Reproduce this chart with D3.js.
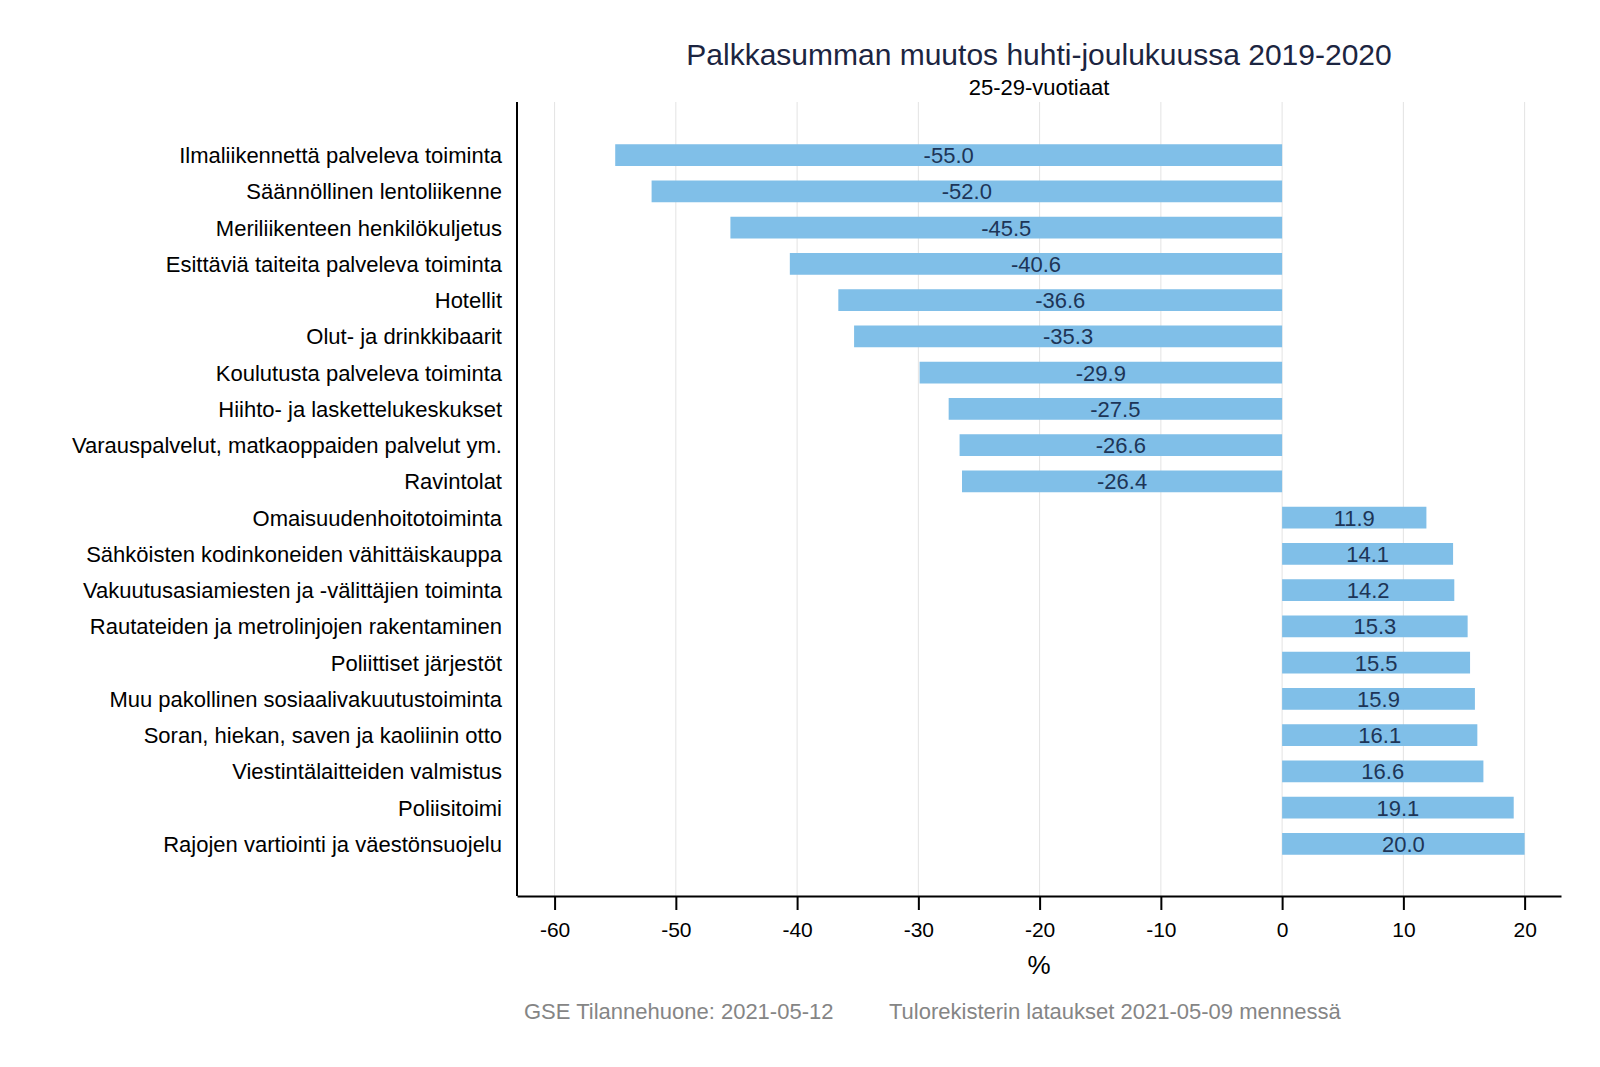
<!DOCTYPE html>
<html>
<head>
<meta charset="utf-8">
<script src="https://cdn.jsdelivr.net/npm/d3@7"></script>
<style>
  body { margin: 0; background: #fff; }
  text { font-family: "Liberation Sans", Arial, sans-serif; }
</style>
</head>
<body>
<div id="chart"></div>
<script>
// data
const categories = [
  "Ilmaliikennettä palveleva toiminta",
  "Säännöllinen lentoliikenne",
  "Meriliikenteen henkilökuljetus",
  "Esittäviä taiteita palveleva toiminta",
  "Hotellit",
  "Olut- ja drinkkibaarit",
  "Koulutusta palveleva toiminta",
  "Hiihto- ja laskettelukeskukset",
  "Varauspalvelut, matkaoppaiden palvelut ym.",
  "Ravintolat",
  "Omaisuudenhoitotoiminta",
  "Sähköisten kodinkoneiden vähittäiskauppa",
  "Vakuutusasiamiesten ja -välittäjien toiminta",
  "Rautateiden ja metrolinjojen rakentaminen",
  "Poliittiset järjestöt",
  "Muu pakollinen sosiaalivakuutustoiminta",
  "Soran, hiekan, saven ja kaoliinin otto",
  "Viestintälaitteiden valmistus",
  "Poliisitoimi",
  "Rajojen vartiointi ja väestönsuojelu"
];
const values = [-55.0, -52.0, -45.5, -40.6, -36.6, -35.3, -29.9, -27.5, -26.6, -26.4,
  11.9, 14.1, 14.2, 15.3, 15.5, 15.9, 16.1, 16.6, 19.1, 20.0];
const xTicks = [-60, -50, -40, -30, -20, -10, 0, 10, 20];

const rows = categories.map((c, i) => ({ name: c, value: values[i] }));

const W = 1600, H = 1067;
const margin = { top: 102, right: 39, bottom: 171, left: 517 };
const width = W - margin.left - margin.right;
const height = H - margin.top - margin.bottom;

const svg = d3.select("#chart").append("svg")
  .attr("width", W)
  .attr("height", H);

const g = svg.append("g")
  .attr("transform", "translate(" + margin.left + "," + margin.top + ")");

const x = d3.scaleLinear().domain([-63.1, 23]).range([0, width]);
const y = d3.scaleBand()
  .domain(categories)
  .range([35, 760])
  .paddingInner(0.4)
  .paddingOuter(0.2);

// gridlines
g.selectAll("line.grid")
  .data(xTicks)
  .enter()
  .append("line")
  .attr("class", "grid")
  .attr("x1", d => x(d))
  .attr("x2", d => x(d))
  .attr("y1", 0)
  .attr("y2", height)
  .attr("stroke", "#e3e3e3")
  .attr("stroke-width", 1);

// bars
g.selectAll("rect.bar")
  .data(rows)
  .enter()
  .append("rect")
  .attr("class", "bar")
  .attr("x", d => x(Math.min(0, d.value)))
  .attr("width", d => Math.abs(x(d.value) - x(0)))
  .attr("y", d => y(d.name))
  .attr("height", y.bandwidth())
  .attr("fill", "#80bfe8");

// value labels
g.selectAll("text.val")
  .data(rows)
  .enter()
  .append("text")
  .attr("class", "val")
  .attr("x", d => (x(d.value) + x(0)) / 2)
  .attr("y", d => y(d.name) + y.bandwidth() / 2)
  .attr("dy", "0.36em")
  .attr("text-anchor", "middle")
  .attr("font-size", 22)
  .attr("fill", "#1d3557")
  .text(d => d.value.toFixed(1));

// category labels
g.selectAll("text.cat")
  .data(rows)
  .enter()
  .append("text")
  .attr("class", "cat")
  .attr("x", -15)
  .attr("y", d => y(d.name) + y.bandwidth() / 2)
  .attr("dy", "0.36em")
  .attr("text-anchor", "end")
  .attr("font-size", 22)
  .attr("fill", "#000")
  .text(d => d.name);

// left axis line
g.append("line")
  .attr("x1", 0).attr("x2", 0)
  .attr("y1", 0).attr("y2", height)
  .attr("stroke", "#000")
  .attr("stroke-width", 2);

// x axis
const xAxis = g.append("g")
  .attr("transform", "translate(0," + height + ")")
  .call(d3.axisBottom(x).tickValues(xTicks).tickFormat(d3.format("d")).tickSize(14).tickPadding(12).tickSizeOuter(0));
xAxis.select(".domain").attr("stroke", "#000").attr("stroke-width", 2);
xAxis.selectAll(".tick line").attr("stroke", "#000").attr("stroke-width", 2);
xAxis.selectAll(".tick text")
  .text(d => String(d))
  .attr("font-size", 21)
  .attr("font-family", "Liberation Sans, Arial, sans-serif")
  .attr("fill", "#000");

// axis title
svg.append("text")
  .attr("x", 1039)
  .attr("y", 974)
  .attr("text-anchor", "middle")
  .attr("font-size", 26)
  .attr("fill", "#000")
  .text("%");

// title and subtitle
svg.append("text")
  .attr("x", 1039)
  .attr("y", 65)
  .attr("text-anchor", "middle")
  .attr("font-size", 30)
  .attr("fill", "#1c2541")
  .text("Palkkasumman muutos huhti-joulukuussa 2019-2020");

svg.append("text")
  .attr("x", 1039)
  .attr("y", 95)
  .attr("text-anchor", "middle")
  .attr("font-size", 22)
  .attr("fill", "#000")
  .text("25-29-vuotiaat");

// footer
svg.append("text")
  .attr("x", 524)
  .attr("y", 1019)
  .attr("font-size", 22)
  .attr("fill", "#858585")
  .text("GSE Tilannehuone: 2021-05-12");

svg.append("text")
  .attr("x", 889)
  .attr("y", 1019)
  .attr("font-size", 22)
  .attr("fill", "#858585")
  .text("Tulorekisterin lataukset 2021-05-09 mennessä");
</script>
</body>
</html>
